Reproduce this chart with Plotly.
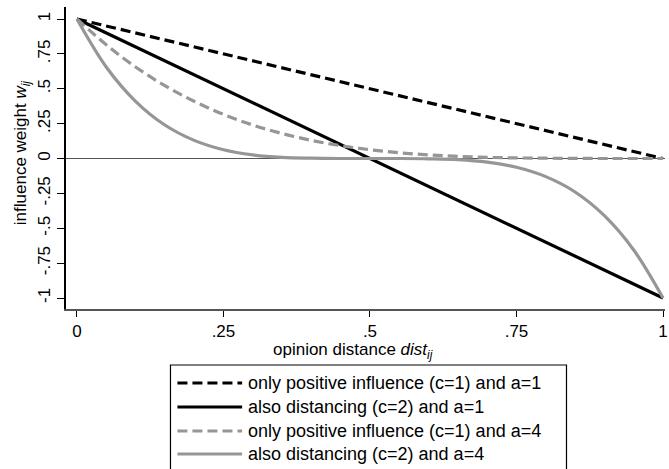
import plotly.graph_objects as go

# ---- data ----
dist_line = [0.0, 1.0]
w_pos_a1 = [1.0, 0.0]          # only positive influence (c=1), a=1
w_dist_a1 = [1.0, -1.0]        # also distancing (c=2), a=1

dist_curve = [0.00, 0.05, 0.10, 0.15, 0.20, 0.25, 0.30, 0.35, 0.40, 0.45, 0.50,
              0.55, 0.60, 0.65, 0.70, 0.75, 0.80, 0.85, 0.90, 0.95, 1.00]
w_pos_a4 = [1.000, 0.815, 0.656, 0.522, 0.410, 0.316, 0.240, 0.179, 0.130, 0.092, 0.063,
            0.041, 0.026, 0.015, 0.008, 0.004, 0.002, 0.001, 0.000, 0.000, 0.000]
w_dist_a4 = [1.000, 0.656, 0.410, 0.240, 0.130, 0.063, 0.026, 0.008, 0.002, 0.000, 0.000,
             0.000, -0.002, -0.008, -0.026, -0.063, -0.130, -0.240, -0.410, -0.656, -1.000]

series_names = ["only positive influence (c=1) and a=1",
                "also distancing (c=2) and a=1",
                "only positive influence (c=1) and a=4",
                "also distancing (c=2) and a=4"]

x_ticks = [0, 0.25, 0.5, 0.75, 1]
x_ticklabels = ["0", ".25", ".5", ".75", "1"]
y_ticks = [-1, -0.75, -0.5, -0.25, 0, 0.25, 0.5, 0.75, 1]
y_ticklabels = ["-1", "-.75", "-.5", "-.25", "0", ".25", ".5", ".75", "1"]

# ---- styles ----
BLACK = "#000000"
GRAY = "#969696"
FONT = "Liberation Sans, Arial, sans-serif"
styles = [
    dict(color=BLACK, width=3.2, dash="10px,5px"),
    dict(color=BLACK, width=3.2, dash="solid"),
    dict(color=GRAY, width=3.2, dash="10px,5px"),
    dict(color=GRAY, width=3.2, dash="solid"),
]

W, H = 669, 469
ML, MR, MT, MB = 66, 1, 7, 160
PW, PH = W - ML - MR, H - MT - MB


def px_x(p):
    return (p - ML) / PW


def px_y(p):
    return (H - MB - p) / PH


fig = go.Figure()
data = [(dist_line, w_pos_a1, "linear"), (dist_line, w_dist_a1, "linear"),
        (dist_curve, w_pos_a4, "spline"), (dist_curve, w_dist_a4, "spline")]
for (xs, ys, shape), name, st in zip(data, series_names, styles):
    fig.add_trace(go.Scatter(x=xs, y=ys, mode="lines", name=name,
                             line=dict(shape=shape, **st), showlegend=False))

# ---- manual legend ----
shapes = [dict(type="rect", xref="paper", yref="paper",
               x0=px_x(171), x1=px_x(569), y0=px_y(485), y1=px_y(365),
               line=dict(color=BLACK, width=1.2), fillcolor="white", layer="above")]
annotations = []
row_y = [383, 407, 431, 454]
for ry, name, st in zip(row_y, series_names, styles):
    shapes.append(dict(type="line", xref="paper", yref="paper",
                       x0=px_x(178), x1=px_x(243), y0=px_y(ry), y1=px_y(ry),
                       line=dict(color=st["color"], width=st["width"], dash=st["dash"]),
                       layer="above"))
    annotations.append(dict(text=name, xref="paper", yref="paper",
                            x=px_x(247), y=px_y(ry), xanchor="left", yanchor="middle",
                            showarrow=False, font=dict(size=18, color=BLACK, family=FONT)))

# axis titles
annotations.append(dict(text="opinion distance <i>dist</i><sub><i>ij</i></sub>",
                        xref="paper", yref="paper", x=px_x(354), y=px_y(351),
                        xanchor="center", yanchor="middle", showarrow=False,
                        font=dict(size=17, color=BLACK, family=FONT)))
annotations.append(dict(text="influence weight <i>w</i><sub><i>ij</i></sub>",
                        xref="paper", yref="paper", x=px_x(22), y=px_y(153),
                        xanchor="center", yanchor="middle", showarrow=False, textangle=-90,
                        font=dict(size=17, color=BLACK, family=FONT)))

fig.update_layout(
    width=W, height=H,
    margin=dict(l=ML, r=MR, t=MT, b=MB, pad=0),
    paper_bgcolor="white", plot_bgcolor="white",
    font=dict(family=FONT, size=17, color=BLACK),
    showlegend=False,
    shapes=shapes, annotations=annotations,
    xaxis=dict(range=[-11 / 589, 1 + 2 / 589], tickvals=x_ticks, ticktext=x_ticklabels,
               showgrid=False, zeroline=False, showline=True, linecolor="#555555",
               linewidth=1.5, ticks="outside", ticklen=6, tickwidth=1, tickcolor=BLACK,
               tickfont=dict(size=17), ticklabeloverflow="allow", fixedrange=True),
    yaxis=dict(range=[-1 - 11 / 139.5, 1 + 12 / 139.5], tickvals=y_ticks, ticktext=y_ticklabels,
               tickangle=-90, showgrid=False, zeroline=True, zerolinecolor="#555555",
               zerolinewidth=1, showline=True, linecolor=BLACK, linewidth=1.5,
               ticks="outside", ticklen=7, tickwidth=1, tickcolor=BLACK,
               tickfont=dict(size=17), ticklabeloverflow="allow", fixedrange=True),
)

fig.write_html("out.html")
